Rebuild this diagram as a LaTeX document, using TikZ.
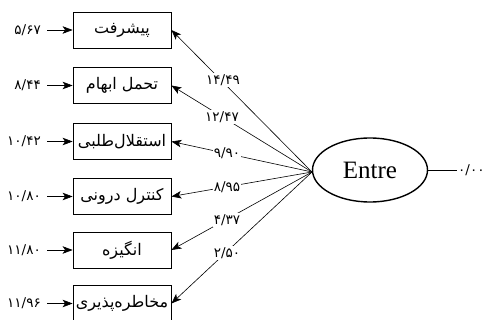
\documentclass[tikz,border=0pt]{standalone}
\usepackage{fontspec}
\setmainfont{Liberation Serif}
\newfontfamily\arabicfont[Script=Arabic]{DejaVu Sans}
\TeXXeTstate=1
\usetikzlibrary{arrows.meta,shapes.geometric}
\begin{document}
\begin{tikzpicture}[x=1pt,y=-1pt,
  tip/.style={-{Stealth[length=10pt,width=7.5pt,inset=2.5pt]}},
  varbox/.style={draw,line width=0.8pt,minimum width=98pt,minimum height=36pt,inner sep=0pt,font=\arabicfont\fontsize{16}{18}\selectfont},
  latent/.style={draw,ellipse,line width=1.4pt,minimum width=115pt,minimum height=64pt,inner sep=0pt,font=\fontsize{25}{28}\selectfont},
  num/.style={inner sep=1pt,font=\arabicfont\fontsize{13.5}{15}\selectfont},
  lnum/.style={num,fill=white},
  conn/.style={line width=0.6pt}]
\useasboundingbox (0,0) rectangle (484,320);
\node[latent] (E) at (370,170) {Entre};
\node[varbox] (b1) at (122,30) {\beginR پیشرفت\endR};
\node[varbox] (b2) at (122,85.5) {\beginR تحمل ابهام\endR};
\node[varbox] (b3) at (122,141.5) {\beginR استقلال‌طلبی\endR};
\node[varbox] (b4) at (122,196.5) {\beginR کنترل درونی\endR};
\node[varbox] (b5) at (122,250) {\beginR انگیزه\endR};
\node[varbox] (b6) at (122,303.5) {\beginR مخاطره‌پذیری\endR};
% error terms
\node[num,anchor=east] (e1) at (42,30) {۵/۶۷};
\node[num,anchor=east] (e2) at (42,85.5) {۸/۴۴};
\node[num,anchor=east] (e3) at (42,141.5) {۱۰/۴۲};
\node[num,anchor=east] (e4) at (42,196.5) {۱۰/۸۰};
\node[num,anchor=east] (e5) at (42,250) {۱۱/۸۰};
\node[num,anchor=east] (e6) at (42,303.5) {۱۱/۹۶};
\foreach \i in {1,...,6} {\draw[conn,tip] (e\i.east) ++(5,0) -- (b\i.west);}
% loadings
\coordinate (c) at (312,172);
\foreach \i in {1,...,6} {\draw[conn,tip] (c) -- (b\i.east);}
\node[lnum] (l1) at (223,80) {۱۴/۴۹};
\node[lnum] (l2) at (222,117) {۱۲/۴۷};
\node[lnum] (l3) at (227,153) {۹/۹۰};
\node[lnum] (l4) at (227,187) {۸/۹۵};
\node[lnum] (l5) at (227,220) {۴/۳۷};
\node[lnum] (l6) at (227,253) {۲/۵۰};
% right
\coordinate (r) at (457,170);
\draw[conn] (E.east) -- (r);
\node[num,anchor=west] (rv) at (r) {۰/۰۰};
\end{tikzpicture}
\end{document}
